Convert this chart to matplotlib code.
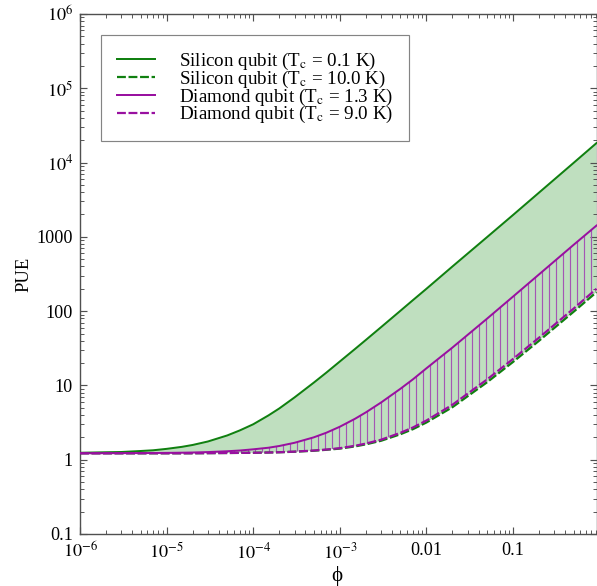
import numpy as np
import matplotlib
matplotlib.use('Agg')
import matplotlib.pyplot as plt
from matplotlib.ticker import FixedLocator, FixedFormatter, LogLocator, NullFormatter

# ---- data ----
phi = [1e-6, 2e-6, 3e-6, 5e-6, 7e-6, 1e-5, 1.5e-5, 2e-5, 3e-5, 5e-5, 7e-5,
       1e-4, 1.5e-4, 2e-4, 3e-4, 5e-4, 7e-4, 1e-3, 1.5e-3, 2e-3, 3e-3, 5e-3,
       7e-3, 1e-2, 2e-2, 5e-2, 0.1, 0.2, 0.5, 0.92]
si_01 = [1.24, 1.26, 1.27, 1.31, 1.34, 1.40, 1.49, 1.58, 1.76, 2.12, 2.48,
         3.0, 3.95, 4.9, 6.9, 10.9, 14.9, 21, 31, 41, 61, 101,
         141, 200, 400, 990, 1970, 3950, 9900, 18300]
si_10 = [1.22, 1.22, 1.22, 1.22, 1.22, 1.22, 1.22, 1.22, 1.225, 1.23, 1.235,
         1.24, 1.25, 1.26, 1.28, 1.32, 1.36, 1.41, 1.51, 1.61, 1.80, 2.2,
         2.58, 3.17, 5.1, 11.0, 20.7, 40, 98, 180]
di_13 = [1.22, 1.223, 1.225, 1.228, 1.231, 1.236, 1.243, 1.25, 1.267, 1.30, 1.33,
         1.38, 1.45, 1.53, 1.69, 2.0, 2.31, 2.78, 3.56, 4.34, 5.9, 9.0,
         12.1, 17, 32.4, 79, 157, 313, 780, 1420]
di_90 = [1.22, 1.22, 1.22, 1.22, 1.22, 1.22, 1.22, 1.222, 1.226, 1.232, 1.236,
         1.24, 1.25, 1.26, 1.285, 1.33, 1.37, 1.43, 1.54, 1.65, 1.86, 2.3,
         2.72, 3.37, 5.5, 12.0, 22.7, 44, 108, 200]

labels = ['Silicon qubit (T$_{\\rm c}$ = 0.1 K)',
          'Silicon qubit (T$_{\\rm c}$ = 10.0 K)',
          'Diamond qubit (T$_{\\rm c}$ = 1.3 K)',
          'Diamond qubit (T$_{\\rm c}$ = 9.0 K)']

xticks = [1e-6, 1e-5, 1e-4, 1e-3, 1e-2, 1e-1]
xticklabels = ['$10^{-6}$', '$10^{-5}$', '$10^{-4}$', '$10^{-3}$', '0.01', '0.1']
yticks = [0.1, 1, 10, 100, 1000, 1e4, 1e5, 1e6]
yticklabels = ['0.1', '1', '10', '100', '1000', '$10^4$', '$10^5$', '$10^6$']

# ---- style ----
plt.rcParams['font.family'] = ['Liberation Serif', 'DejaVu Serif']
plt.rcParams['mathtext.fontset'] = 'stix'
plt.rcParams['hatch.linewidth'] = 1.0

DPI = 84
fig = plt.figure(figsize=(597 / DPI, 586 / DPI), dpi=DPI)
ax = fig.add_axes([80 / 597, 1 - 534 / 586, 516.5 / 597, 520 / 586])

green = '#108010'
purple = '#9910a0'

ax.fill_between(phi, si_10, si_01, facecolor='#bfdfbf', edgecolor='none', zorder=1)
ax.fill_between(phi, di_90, di_13, facecolor='none', edgecolor='#a456b4',
                hatch='||', linewidth=0, zorder=2)

ax.plot(phi, si_01, color=green, lw=1.7, label=labels[0], zorder=4)
ax.plot(phi, si_10, color=green, lw=1.9, dashes=[4, 1.2], label=labels[1], zorder=4)
ax.plot(phi, di_13, color=purple, lw=1.7, label=labels[2], zorder=5)
ax.plot(phi, di_90, color=purple, lw=1.9, dashes=[4, 1.2], label=labels[3], zorder=5)

ax.set_xscale('log')
ax.set_yscale('log')
ax.set_xlim(1e-6, 0.92)
ax.set_ylim(0.1, 1e6)

ax.xaxis.set_major_locator(FixedLocator(xticks))
ax.xaxis.set_major_formatter(FixedFormatter(xticklabels))
ax.yaxis.set_major_locator(FixedLocator(yticks))
ax.yaxis.set_major_formatter(FixedFormatter(yticklabels))
ax.xaxis.set_minor_locator(LogLocator(base=10, subs=np.arange(2, 10), numticks=20))
ax.yaxis.set_minor_locator(LogLocator(base=10, subs=np.arange(2, 10), numticks=20))
ax.xaxis.set_minor_formatter(NullFormatter())
ax.yaxis.set_minor_formatter(NullFormatter())

spine_col = '#505050'
for s in ax.spines.values():
    s.set_color(spine_col)
    s.set_linewidth(1.2)
ax.tick_params(which='both', direction='in', top=True, right=True, colors=spine_col,
               labelcolor='black', labelsize=15.5)
ax.tick_params(which='major', length=6, width=1.0)
ax.tick_params(axis='y', which='major', pad=6)
ax.tick_params(axis='x', which='major', pad=7)
ax.tick_params(which='minor', length=3.5, width=0.8)

ax.set_xlabel('ϕ', fontsize=18)
ax.xaxis.set_label_coords((337 - 80) / 516.5, (534 - 566) / 520)
ax.set_ylabel('PUE', fontsize=16)
ax.yaxis.set_label_coords((32 - 80) / 516.5, 0.5)

leg = ax.legend(loc='upper left', fontsize=16.3, frameon=True, fancybox=False,
                edgecolor='#666666', borderpad=0.85, handlelength=2.0,
                handletextpad=1.25, labelspacing=-0.18, borderaxespad=1.1)
leg.get_frame().set_linewidth(1.0)

fig.savefig('out.png', dpi=DPI)
